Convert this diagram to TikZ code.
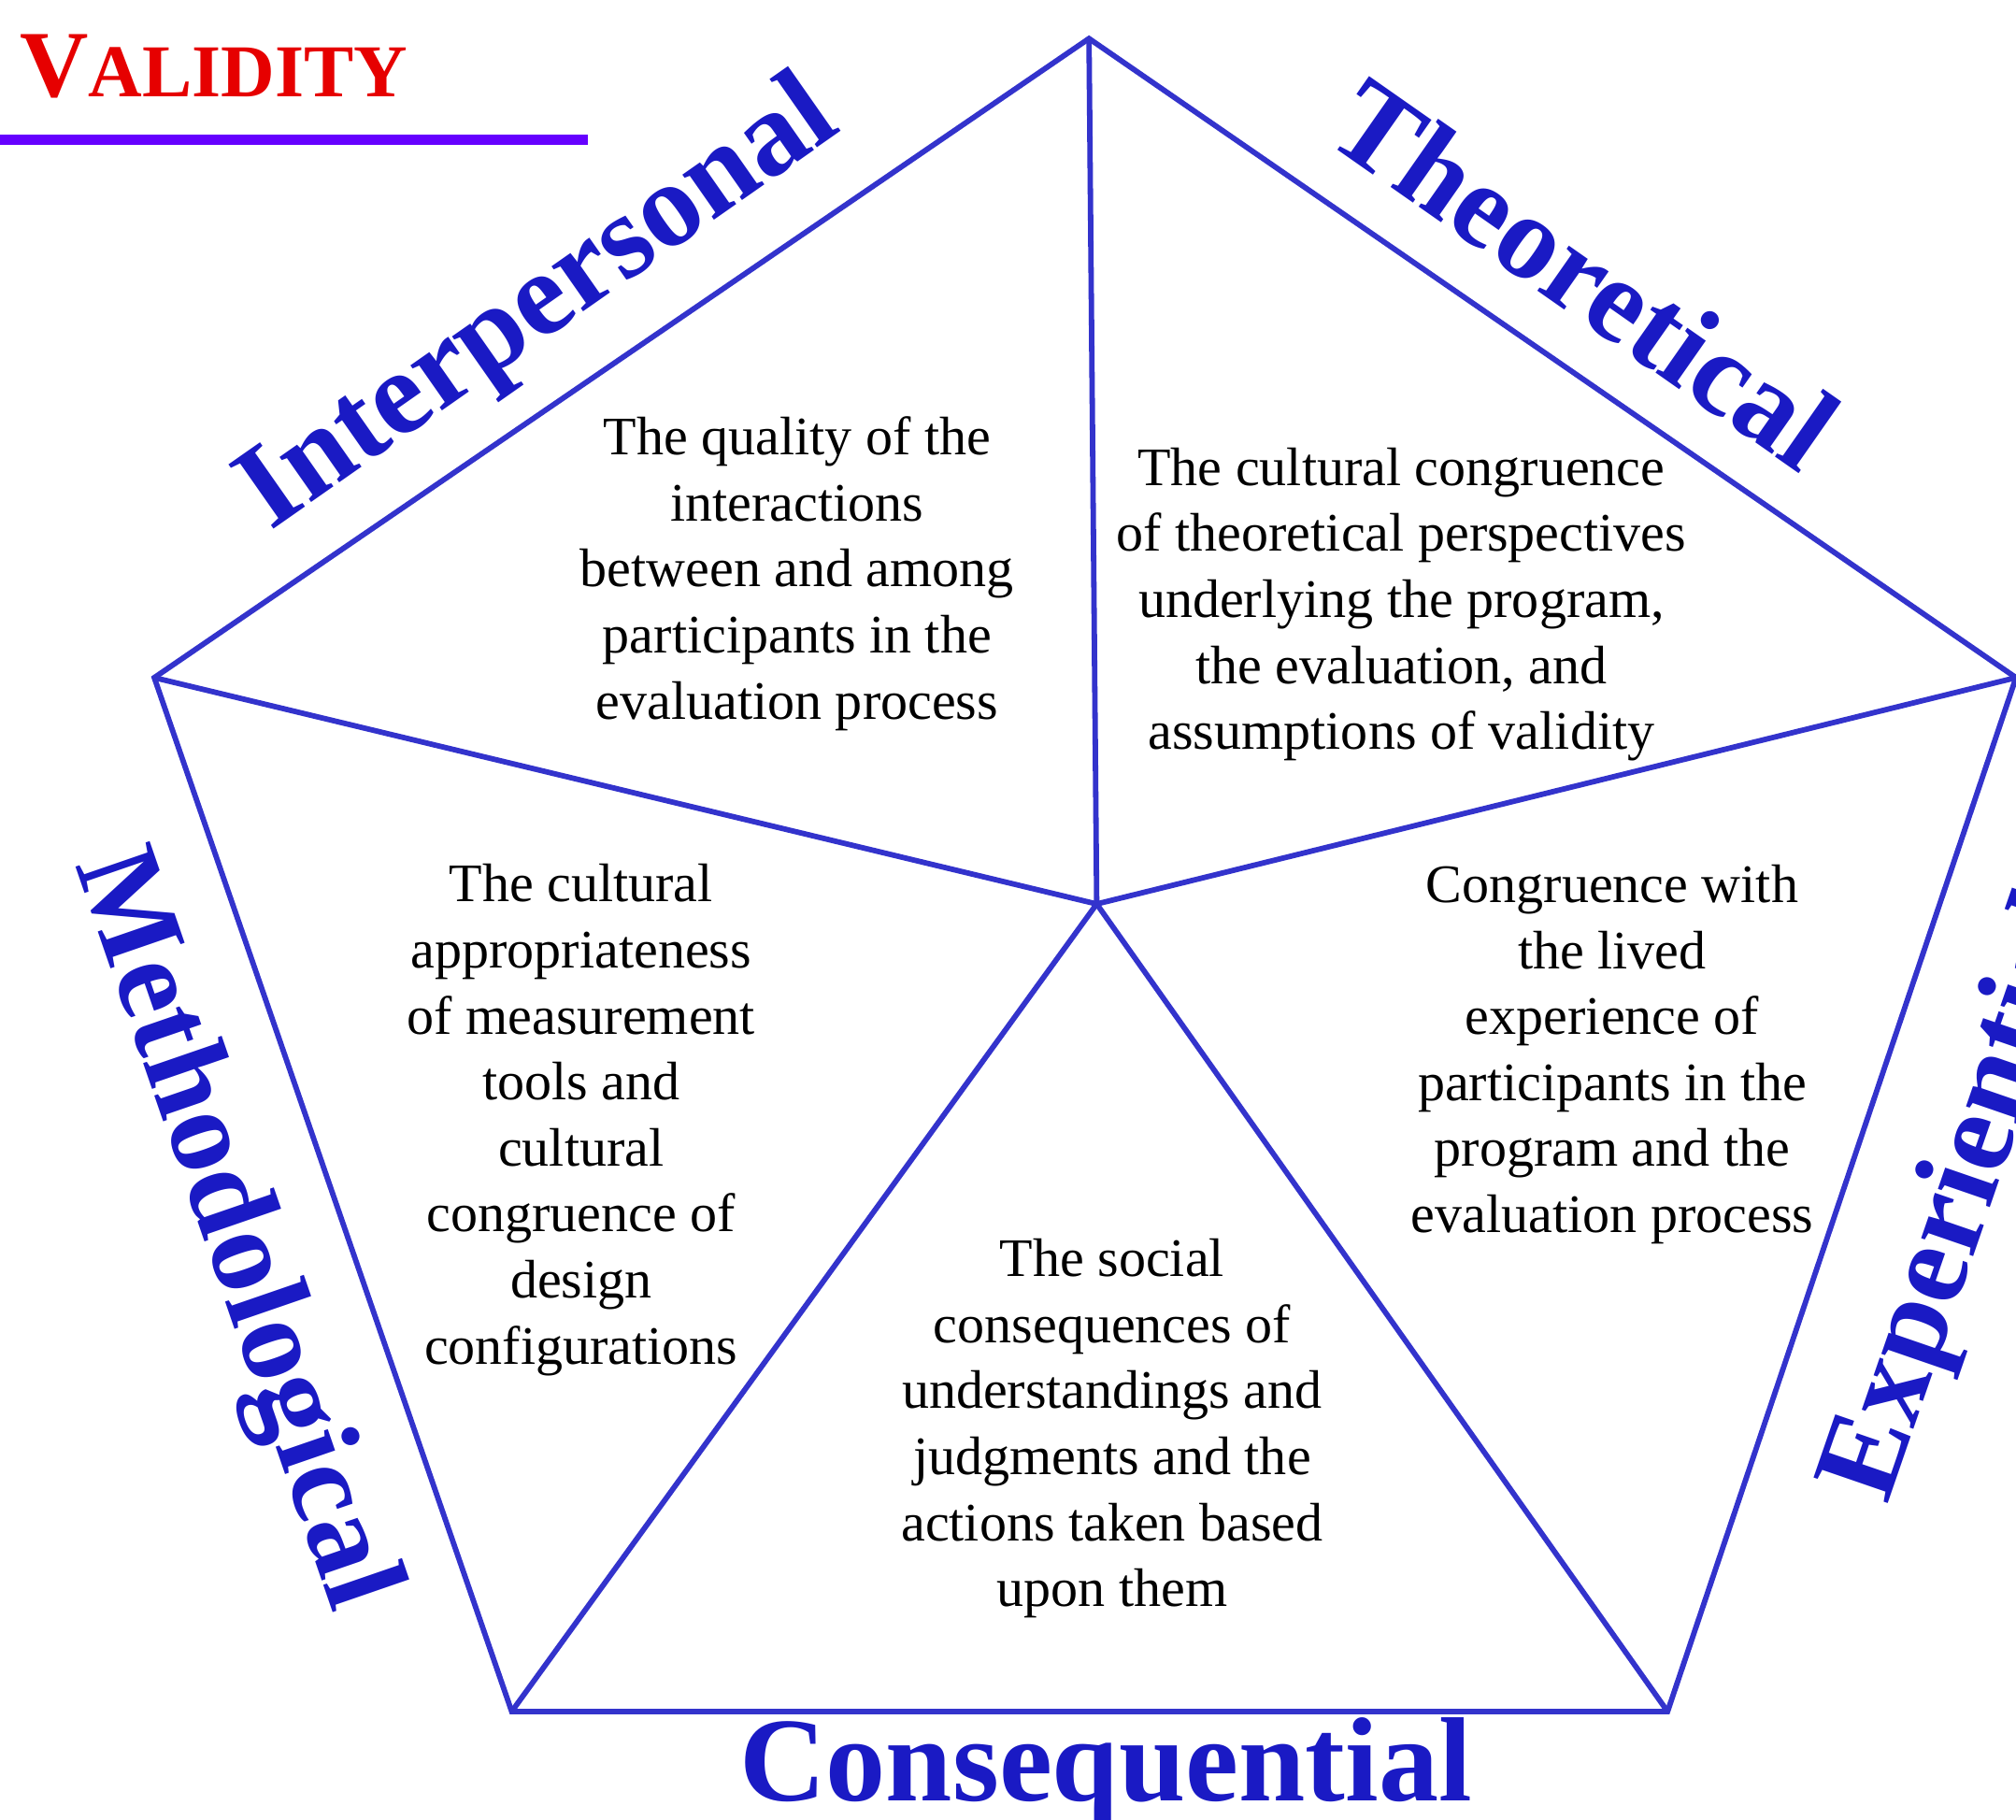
\documentclass[tikz,border=0pt]{standalone}
\usepackage{fontspec}
\setmainfont{Liberation Serif}
\usetikzlibrary{calc}
\definecolor{edgeblue}{RGB}{51,51,204}
\definecolor{labelblue}{RGB}{26,26,196}
\definecolor{titlered}{RGB}{230,0,0}
\definecolor{barpurple}{RGB}{102,0,255}
\tikzset{edge/.style={edgeblue, line width=1.2pt, line join=miter}}
\tikzset{side/.style={labelblue, font=\bfseries\fontsize{26.5}{26.5}\selectfont, inner sep=0pt}}
\tikzset{blurb/.style={align=center, font=\fontsize{12}{14.6}\selectfont, inner sep=0pt}}

\begin{document}
\begin{tikzpicture}[x=0.01cm, y=0.01cm]
    \path[use as bounding box, clip] (0,0) rectangle (1568,1415);
    % corners of the pentagon and its middle
    \coordinate (top) at (847,1385);
    \coordinate (right) at (1568,888);
    \coordinate (botright) at (1297,84);
    \coordinate (botleft) at (398,84);
    \coordinate (left) at (120,888);
    \coordinate (mid) at (853,712);
    \draw[edge] (top) -- (right) -- (botright) -- (botleft) -- (left) -- cycle;
    \draw[edge] (mid) -- (top);
    \draw[edge] (mid) -- (right);
    \draw[edge] (mid) -- (botright);
    \draw[edge] (mid) -- (botleft);
    \draw[edge] (mid) -- (left);
    % title
    \node[anchor=base west, titlered, font=\bfseries, inner sep=0pt] (title) at (15,1340)
        {{\fontsize{21}{21}\selectfont V}{\fontsize{16.5}{16.5}\selectfont ALIDITY}};
    \fill[barpurple] (0,1302) rectangle (457,1310);
    % names of the sides
    \node[side, rotate=35] (interpersonal) at (420,1176) {Interpersonal};
    \node[side, rotate=-35] (theoretical) at (1233,1202) {Theoretical};
    \node[side, rotate=-71] (methodological) at (180,458) {Methodological};
    \node[side, rotate=71] (experiential) at (1527,484) {Experiential};
    \node[side] (consequential) at (860,37) {Consequential};
    % what each side means
    \node[blurb] (interpersonaltext) at (620,969) {The quality of the\\interactions\\between and among\\participants in the\\evaluation process};
    \node[blurb] (theoreticaltext) at (1090,945) {The cultural congruence\\of theoretical perspectives\\underlying the program,\\the evaluation, and\\assumptions of validity};
    \node[blurb] (methodologicaltext) at (452,544) {The cultural\\appropriateness\\of measurement\\tools and\\cultural\\congruence of\\design\\configurations};
    \node[blurb] (experientialtext) at (1254,595) {Congruence with\\the lived\\experience of\\participants in the\\program and the\\evaluation process};
    \node[blurb] (consequentialtext) at (865,304) {The social\\consequences of\\understandings and\\judgments and the\\actions taken based\\upon them};
\end{tikzpicture}
\end{document}
